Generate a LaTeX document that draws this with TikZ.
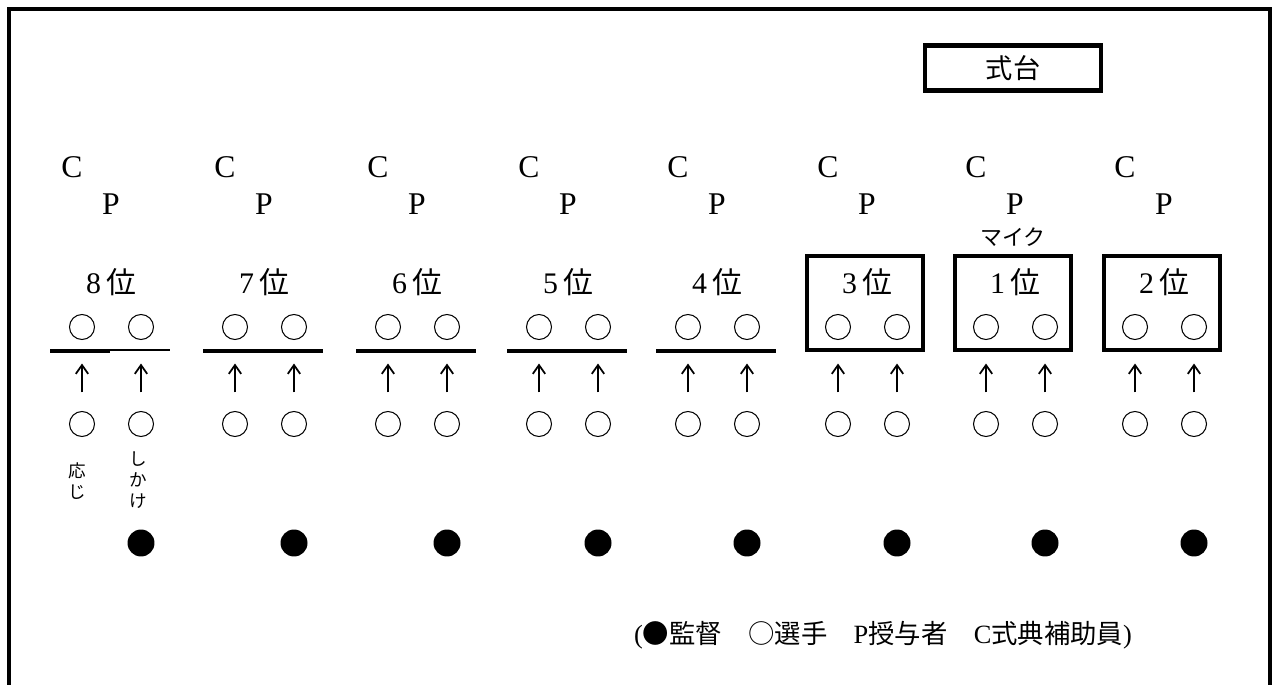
\documentclass[tikz,border=0pt]{standalone}
\usepackage{fontspec}
\setmainfont{Liberation Serif}
\newfontfamily\jp{Noto Sans CJK JP}
\usetikzlibrary{arrows.meta}
\tikzset{
  player/.style={circle,draw,line width=0.6pt,minimum size=0.5cm,inner sep=0pt},
  coach/.style={circle,fill,minimum size=0.54cm,inner sep=0pt},
  rankbox/.style={draw,line width=2.3pt},
  rankline/.style={line width=2.3pt},
  walk/.style={-{Straight Barb[length=5pt,width=7pt]},line width=1pt,shorten <=0.37cm,shorten >=0.47cm},
  letter/.style={inner sep=0pt,font=\fontsize{18pt}{20pt}\selectfont},
  ranklabel/.style={inner sep=0pt,font=\fontsize{17pt}{20pt}\selectfont},
  note/.style={inner sep=0pt,align=center,font=\jp\fontsize{10pt}{11.9pt}\selectfont}
}
\begin{document}
\begin{tikzpicture}[x=0.02cm,y=-0.02cm]
\useasboundingbox (0,0) rectangle (1277,685);
\draw[line width=2.8pt] (9,685) -- (9,9) -- (1270,9) -- (1270,685);
\node[draw,line width=2.8pt,minimum width=3.52cm,minimum height=0.9cm,font=\jp\fontsize{15.5pt}{18pt}\selectfont] (stage) at (1013,68) {式台};
\foreach \r/\x in {8/82,7/235,6/388,5/539,4/688,3/838,1/986,2/1135} {
  \node[letter] (c\r) at (\x-10,167) {C};
  \node[letter] (p\r) at (\x+29,204) {P};
  \node[ranklabel] (rank\r) at (\x+29,282) {\r\,{\jp 位}};
  \node[player] (ta\r) at (\x,327) {};
  \node[player] (tb\r) at (\x+59,327) {};
  \node[player] (ba\r) at (\x,424) {};
  \node[player] (bb\r) at (\x+59,424) {};
  \draw[walk] (ba\r) -- (ta\r);
  \draw[walk] (bb\r) -- (tb\r);
  \node[coach] (coach\r) at (\x+59,543) {};
}
\draw[rankline] (50,351) -- (110,351);
\draw[line width=1.2pt] (110,350) -- (170,350);
\foreach \x in {235,388,539,688}
  \draw[rankline] (\x-32,351) -- (\x+88,351);
\foreach \x in {838,986,1135}
  \draw[rankbox] (\x-31,256) rectangle (\x+85,350);
\node[inner sep=0pt,font=\jp\fontsize{12.5pt}{14pt}\selectfont] (mic) at (1013,237) {マイク};
\node[note] (oji) at (77,481) {応\\じ};
\node[note] (shikake) at (138,480) {し\\か\\け};
\node[inner sep=0pt,font=\fontsize{15pt}{18pt}\selectfont] (legend) at (883,635)
  {({\jp ●監督　○選手　}P{\jp 授与者　}C{\jp 式典補助員})};
\end{tikzpicture}
\end{document}
